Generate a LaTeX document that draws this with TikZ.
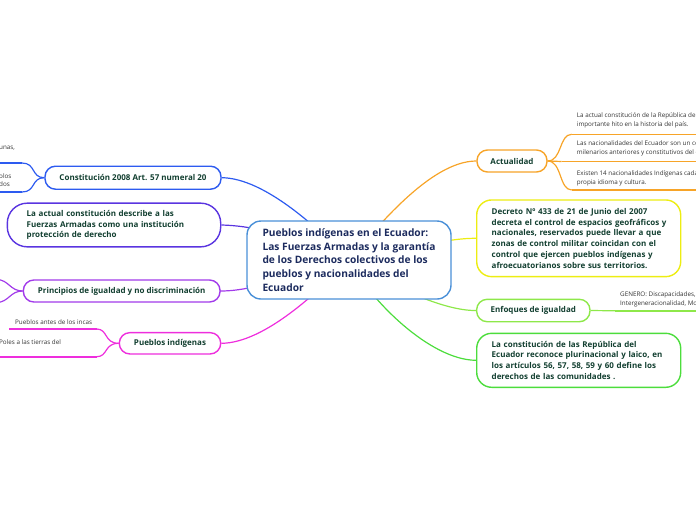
\documentclass[tikz,border=0pt]{standalone}
\usepackage{fontspec}
\setmainfont{Open Sans}
\usetikzlibrary{backgrounds}
\definecolor{cblue}{HTML}{2D5BF0}
\definecolor{cindigo}{HTML}{5A35E0}
\definecolor{cviolet}{HTML}{A23BEA}
\definecolor{cmag}{HTML}{EE2EDD}
\definecolor{corange}{HTML}{F7A428}
\definecolor{cyellow}{HTML}{EDED12}
\definecolor{clime}{HTML}{8EE84A}
\definecolor{cgreen}{HTML}{4CDD3C}
\definecolor{ccenter}{HTML}{4A90D8}
\definecolor{ctext}{HTML}{123F30}
\definecolor{cnavy}{HTML}{1C2B5E}
\definecolor{csmall}{HTML}{333333}
\newcommand{\tline}[1]{\mbox{#1}}
\tikzset{
  topic/.style={draw=#1, line width=1.4pt, fill=white, rounded corners=10.5pt,
    font=\fontsize{8}{10.8}\selectfont\bfseries, text=ctext, inner sep=0pt, align=center},
  bigtopic/.style={draw=#1, line width=1.4pt, fill=white, rounded corners=15pt,
    font=\fontsize{8}{10.8}\selectfont\bfseries, text=ctext, inner ysep=0pt, inner xsep=15pt, align=left},
  central/.style={draw=ccenter, line width=1.4pt, fill=white, rounded corners=14pt,
    font=\fontsize{10.2}{13.7}\selectfont\bfseries, text=cnavy, inner ysep=0pt, inner xsep=12pt,
    align=left, minimum width=204pt, minimum height=78pt},
  leaf/.style={font=\fontsize{6.3}{8.4}\selectfont, text=csmall, inner sep=0pt, align=left},
  link/.style={draw=#1, line width=1.2pt},
  uline/.style={draw=#1, line width=1.6pt},
}
\begin{document}
\begin{tikzpicture}[x=1pt,y=-1pt]
\useasboundingbox (0,0) rectangle (696,520);
% central
\node[central] (ctr) at (349,260) {Pueblos indígenas en el Ecuador:\\Las Fuerzas Armadas y la garantía\\de los Derechos colectivos de los\\pueblos y nacionalidades del\\Ecuador};
% left topics
\node[topic=cblue, minimum width=176pt, minimum height=23pt] (cons) at (133,177.7) {Constitución 2008 Art. 57 numeral 20};
\node[bigtopic=cindigo, inner xsep=19.4pt, text width=174.6pt, minimum height=43.7pt, rounded corners=20pt] (desc) at (114,225) {\tline{La actual constitución describe a las}\\\tline{Fuerzas Armadas como una institución}\\\tline{protección de derecho}};
\node[topic=cviolet, minimum width=196.7pt, minimum height=22pt] (prin) at (121.7,291) {Principios de igualdad y no discriminación};
\node[topic=cmag, minimum width=101.4pt, minimum height=21.3pt] (pueb) at (170,343.3) {Pueblos indígenas};
% right topics
\node[topic=corange, minimum width=70pt, minimum height=22pt] (act) at (512,161) {Actualidad};
\node[bigtopic=cyellow, text width=174pt, minimum height=76.7pt] (dec) at (578.7,238.3) {\tline{Decreto Nº 433 de 21 de Junio del 2007}\\\tline{decreta el control de espacios geofráficos y}\\\tline{nacionales, reservados puede llevar a que}\\\tline{zonas de control militar coincidan con el}\\\tline{control que ejercen pueblos indígenas y}\\\tline{afroecuatorianos sobre sus territorios.}};
\node[topic=clime, minimum width=113.3pt, minimum height=22.4pt] (enf) at (533.3,310.5) {Enfoques de igualdad};
\node[bigtopic=cgreen, text width=174pt, minimum height=54pt] (lac) at (578.7,360.3) {\tline{La constitución de las República del}\\\tline{Ecuador reconoce plurinacional y laico, en}\\\tline{los artículos 56, 57, 58, 59 y 60 define los}\\\tline{derechos de las comunidades .}};
% leaves of Actualidad
\node[leaf, anchor=west] (a1) at (576.7,120.2) {La actual constitución de la República del Ecuador\\importante hito en la historia del país.};
\node[leaf, anchor=west] (a2) at (576.7,148.5) {Las nacionalidades del Ecuador son un conjunto\\milenarios anteriores y constitutivos del estado};
\node[leaf, anchor=west] (a3) at (576.7,178.2) {Existen 14 nacionalidades Indígenas cada una\\propia idioma y cultura.};
\coordinate (a1s) at (571.7,134.3);
\coordinate (a2s) at (561.7,161.5);
\coordinate (a3s) at (571.7,190);
\draw[uline=corange] (a1s) -- (700,134.3);
\draw[uline=corange] (a2s) -- (700,161.5);
\draw[uline=corange] (a3s) -- (700,190);
\draw[link=corange] (act.east) -- (a2s);
\draw[link=corange] (act.east) .. controls (562,161) and (559,134.3) .. (a1s);
\draw[link=corange] (act.east) .. controls (562,161) and (559,190) .. (a3s);
% leaf of Enfoques
\node[leaf, anchor=west] (e1) at (620,299.5) {GENERO: Discapacidades, I\\Intergeneracionalidad, Mov};
\coordinate (e1s) at (615,310.8);
\draw[link=clime] (enf.east) -- (e1s);
\draw[uline=clime] (e1s) -- (700,310.8);
% leaves of Constitución
\node[leaf, anchor=west] (c1) at (-1,148) {unas,};
\node[leaf, anchor=west] (c2) at (-1,180) {olos\\dos};
\coordinate (c1s) at (22,163);
\coordinate (c2s) at (22,192);
\draw[uline=cblue] (c1s) -- (-4,163);
\draw[uline=cblue] (c2s) -- (-4,192);
\draw[link=cblue] (cons.west) .. controls (31,177.7) and (36,163) .. (c1s);
\draw[link=cblue] (cons.west) .. controls (31,177.7) and (36,192) .. (c2s);
% leaves of Principios
\coordinate (p1s) at (-3,279.5);
\coordinate (p2s) at (-3,302.5);
\draw[link=cviolet] (prin.west) .. controls (10,291) and (9,280) .. (p1s);
\draw[link=cviolet] (prin.west) .. controls (10,291) and (9,302) .. (p2s);
% leaves of Pueblos
\node[leaf, anchor=west] (q1) at (15,321.7) {Pueblos antes de los incas};
\node[leaf, anchor=west] (q2) at (-1,342.3) {Poles a las tierras del};
\coordinate (q1s) at (96.7,329);
\coordinate (q2s) at (96.7,356.7);
\draw[uline=cmag] (q1s) -- (9.3,329);
\draw[uline=cmag] (q2s) -- (-4,356.7);
\draw[link=cmag] (pueb.west) .. controls (104,343.3) and (108,329) .. (q1s);
\draw[link=cmag] (pueb.west) .. controls (104,343.3) and (108,356.7) .. (q2s);
% main connectors
\begin{pgfonlayer}{background}
\draw[link=cblue] (cons.east) .. controls (265,178) and (320,230) .. (ctr.center);
\draw[link=cindigo] (desc.east) .. controls (262,226) and (300,240) .. (ctr.center);
\draw[link=cviolet] (prin.east) .. controls (260,291) and (300,270) .. (ctr.center);
\draw[link=cmag] (pueb.east) .. controls (265,343) and (320,290) .. (ctr.center);
\draw[link=corange] (act.west) .. controls (430,161) and (375,230) .. (ctr.center);
\draw[link=cyellow] (dec.west) .. controls (440,238) and (390,255) .. (ctr.center);
\draw[link=clime] (enf.west) .. controls (440,311) and (380,280) .. (ctr.center);
\draw[link=cgreen] (lac.west) .. controls (430,360) and (370,300) .. (ctr.center);
\end{pgfonlayer}
\end{tikzpicture}
\end{document}
